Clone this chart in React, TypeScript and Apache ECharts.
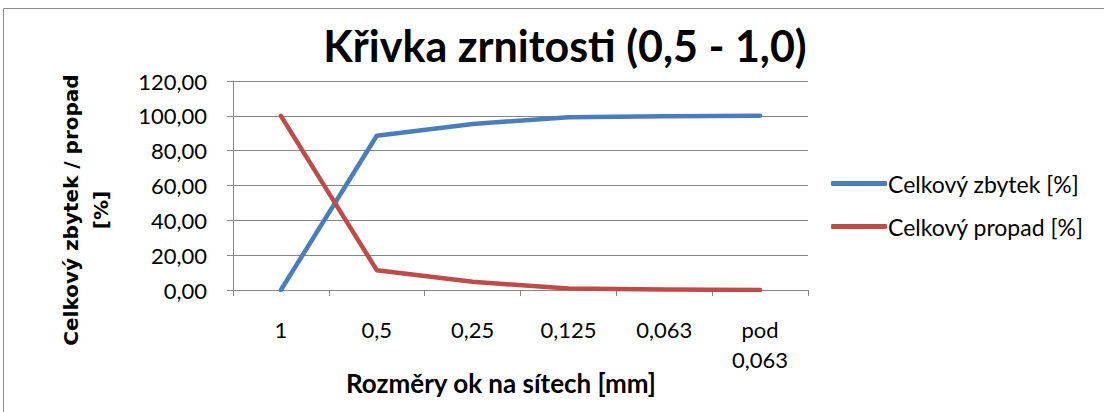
import React, { useEffect, useRef } from "react";
import * as echarts from "echarts";

const categories = ["1", "0,5", "0,25", "0,125", "0,063", "pod\n0,063"];
const zbytek = [0, 88.6, 95.3, 99.2, 99.7, 100];
const propad = [100, 11.4, 4.7, 0.8, 0.3, 0];
const yTicks = { min: 0, max: 120, interval: 20 };
const titleText = "Křivka zrnitosti (0,5 - 1,0)";
const xName = "Rozměry ok na sítech [mm]";
const yName = "Celkový zbytek / propad\n[%]";
const seriesNames = ["Celkový zbytek [%]", "Celkový propad [%]"];

const FONT = "Lato, 'Open Sans', sans-serif";

export default function App() {
  const ref = useRef<HTMLDivElement>(null);
  useEffect(() => {
    const chart = echarts.init(ref.current!, null, { renderer: "svg" });
    chart.setOption({
      animation: false,
      backgroundColor: "#ffffff",
      textStyle: { fontFamily: FONT },
      graphic: [
        {
          type: "rect",
          shape: { x: 3.5, y: 8.5, width: 1110, height: 420 },
          style: { fill: "none", stroke: "#8c8c8c", lineWidth: 1 },
          silent: true,
        },
        {
          type: "text",
          x: 501,
          y: 383,
          style: {
            text: xName,
            fontFamily: FONT,
            fontWeight: "bold",
            fontSize: 26,
            fill: "#000",
            align: "center",
            verticalAlign: "middle",
          },
        },
        {
          type: "text",
          x: 86,
          y: 210,
          rotation: Math.PI / 2,
          style: {
            text: yName,
            fontFamily: "'DejaVu Sans', sans-serif",
            fontWeight: "bold",
            fontSize: 20,
            lineHeight: 30,
            fill: "#000",
            align: "center",
            verticalAlign: "middle",
          },
        },
      ],
      title: {
        text: titleText,
        left: 560,
        textAlign: "center",
        top: 19,
        textStyle: { fontFamily: FONT, fontWeight: "bold", fontSize: 43, color: "#000" },
      },
      legend: {
        orient: "vertical",
        left: 826,
        top: 167,
        itemGap: 20,
        itemWidth: 56,
        itemHeight: 5,
        icon: "roundRect",
        textStyle: { fontFamily: FONT, fontSize: 23, color: "#000", padding: [0, 0, 0, -4] },
        data: seriesNames,
      },
      grid: { left: 233, right: 296, top: 81, bottom: 122, containLabel: false },
      xAxis: {
        type: "category",
        data: categories,
        boundaryGap: true,
        axisLine: { lineStyle: { color: "#868686", width: 1 } },
        axisTick: { show: true, length: 6, lineStyle: { color: "#868686" }, alignWithLabel: false },
        axisLabel: {
          fontFamily: FONT,
          fontSize: 22,
          color: "#000",
          margin: 24,
          lineHeight: 30,
          verticalAlign: "top",
          interval: 0,
        },
      },
      yAxis: {
        type: "value",
        min: yTicks.min,
        max: yTicks.max,
        interval: yTicks.interval,
        axisLine: { show: true, lineStyle: { color: "#868686", width: 1 } },
        axisTick: { show: true, length: 6, lineStyle: { color: "#868686" } },
        splitLine: { lineStyle: { color: "#868686", width: 1 } },
        axisLabel: {
          fontFamily: FONT,
          fontSize: 22,
          color: "#000",
          margin: 26,
          formatter: (v: number) => v.toFixed(2).replace(".", ","),
        },
      },
      series: [
        {
          name: seriesNames[0],
          type: "line",
          data: zbytek,
          showSymbol: false,
          symbol: "none",
          lineStyle: { color: "#4a7ebb", width: 4.5, cap: "round", join: "round" },
          itemStyle: { color: "#4a7ebb" },
        },
        {
          name: seriesNames[1],
          type: "line",
          data: propad,
          showSymbol: false,
          symbol: "none",
          lineStyle: { color: "#be4b48", width: 4.5, cap: "round", join: "round" },
          itemStyle: { color: "#be4b48" },
        },
      ],
    });
    return () => chart.dispose();
  }, []);
  return <div ref={ref} style={{ width: 1104, height: 412, position: "absolute", left: 0, top: 0 }} />;
}
